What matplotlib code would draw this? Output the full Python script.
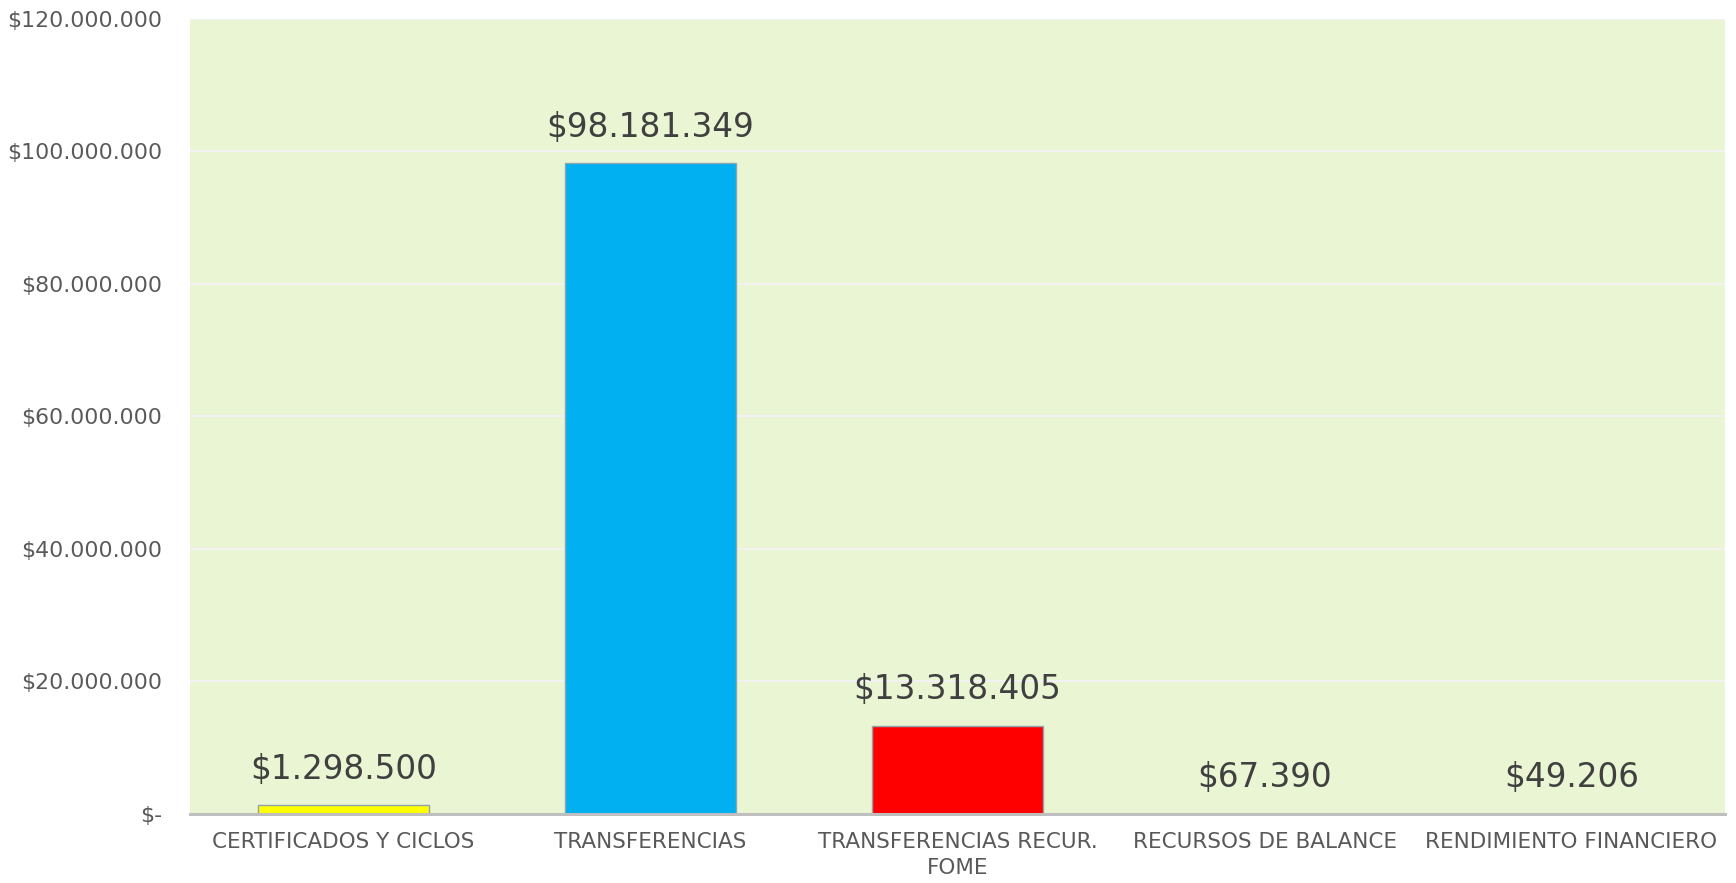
import matplotlib
matplotlib.use("Agg")
import matplotlib.pyplot as plt
from matplotlib.ticker import FuncFormatter, MultipleLocator

categories = ["CERTIFICADOS Y CICLOS", "TRANSFERENCIAS", "TRANSFERENCIAS RECUR.\nFOME",
              "RECURSOS DE BALANCE", "RENDIMIENTO FINANCIERO"]
values = [1298500, 98181349, 13318405, 67390, 49206]
colors = ["#FFFF00", "#00B0F0", "#FF0000", "#FFFF00", "#00B0F0"]

def money(v):
    if v == 0:
        return "$-"
    return "$" + f"{int(round(v)):,}".replace(",", ".")

fig = plt.figure(figsize=(17.36, 8.83), dpi=100)
ax = fig.add_axes([0.1094, 0.0781, 0.9937 - 0.1094, 0.979 - 0.0781])
ax.set_facecolor("#E9F5D3")

x = list(range(len(categories)))
bars = ax.bar(x, values, width=0.555, color=colors, edgecolor="#8EA4AE", linewidth=1.0, zorder=3)

ax.set_ylim(0, 120000000)
ax.set_xlim(-0.5, len(categories) - 0.5)
ax.yaxis.set_major_locator(MultipleLocator(20000000))
ax.yaxis.set_major_formatter(FuncFormatter(lambda v, p: money(v)))
ax.grid(axis="y", color="#F2F2F2", linewidth=1.5, zorder=0)
ax.set_axisbelow(True)

for s in ["top", "right", "left"]:
    ax.spines[s].set_visible(False)
ax.spines["bottom"].set_color("#BFBFBF")
ax.spines["bottom"].set_linewidth(2.2)
ax.spines["bottom"].set_zorder(4)

ax.set_xticks(x)
ax.set_xticklabels(categories, fontsize=15.5, color="#595959", linespacing=1.4)
ax.tick_params(axis="x", length=0, pad=13)
ax.tick_params(axis="y", length=0, pad=20, labelsize=15.8, labelcolor="#595959")

for b, v in zip(bars, values):
    ax.annotate(money(v), (b.get_x() + b.get_width() / 2, v), xytext=(0, 14),
                textcoords="offset points", ha="center", va="bottom",
                fontsize=23.5, color="#404040", zorder=5)

fig.savefig("out.png", dpi=100)
